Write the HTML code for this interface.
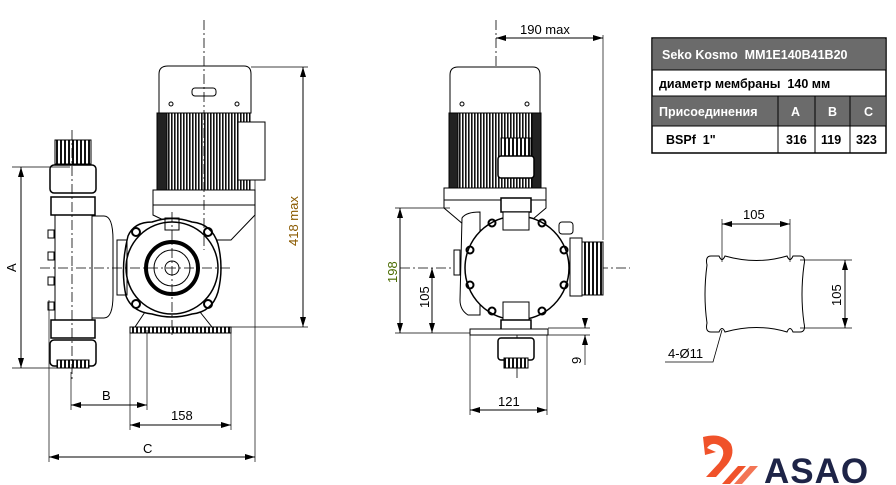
<!DOCTYPE html>
<html><head><meta charset="utf-8"><style>
html,body{margin:0;padding:0;background:#fff;width:896px;height:485px;overflow:hidden}
svg{display:block}
text{font-family:"Liberation Sans",Arial,sans-serif}
</style></head><body>
<svg width="896" height="485" viewBox="0 0 896 485" xmlns="http://www.w3.org/2000/svg">
<defs>
<marker id="a" viewBox="0 0 10 6" refX="10" refY="3" markerWidth="10" markerHeight="6" orient="auto-start-reverse" markerUnits="userSpaceOnUse"><path d="M0,0L10,3L0,6z" fill="#000"/></marker>
<pattern id="fins" width="3" height="10" patternUnits="userSpaceOnUse"><rect width="3" height="10" fill="#fff"/><rect width="1.6" height="10" fill="#111"/></pattern>
<pattern id="rib" width="4" height="10" patternUnits="userSpaceOnUse"><rect width="4" height="10" fill="#fff"/><rect width="2" height="10" fill="#111"/></pattern>
</defs>
<g fill="none" stroke="#000" stroke-width="1">
<!-- LEFT VIEW -->
<path d="M168,66 H244 Q251,66 251,74 V113 H159 V74 Q159,66 168,66Z" fill="#fff"/>
<rect x="192" y="88" width="24" height="8" rx="3"/>
<circle cx="171" cy="104" r="2"/><circle cx="237" cy="104" r="2"/>
<rect x="157" y="113" width="93" height="77" fill="url(#fins)"/>
<rect x="157" y="113" width="10" height="77" fill="#222"/>
<rect x="238" y="122" width="27" height="58" fill="#fff"/>
<path d="M153,190 H255 V215 L231,240 H205 L153,215Z" fill="#fff"/>
<line x1="153" y1="205" x2="255" y2="205"/>
<path d="M128,236 Q134,222 152,222 Q172,215 192,222 Q212,224 218,244 Q224,268 218,292 Q212,312 192,314 Q172,320 152,314 Q132,312 126,296 Q120,268 128,236Z" fill="#fff" stroke-width="1.5"/>
<circle cx="172" cy="268" r="46" stroke-width="1.5"/>
<circle cx="172" cy="268" r="26" stroke-width="4"/>
<circle cx="172" cy="268" r="18"/>
<circle cx="172" cy="268" r="7"/>
<circle cx="136" cy="232" r="4" stroke-width="2"/><circle cx="208" cy="232" r="4" stroke-width="2"/>
<circle cx="136" cy="304" r="4" stroke-width="2"/><circle cx="208" cy="304" r="4" stroke-width="2"/>
<rect x="165" y="218" width="14" height="12"/>
<path d="M145,312 L135,327 M200,312 L212,327"/>
<rect x="130" y="327" width="101" height="6" fill="url(#rib)"/>
<rect x="117" y="240" width="10" height="55"/>
<rect x="55" y="215" width="37" height="105" fill="#fff"/>
<path d="M92,216 H104 Q113,216 113,240 V295 Q113,318 104,318 H92Z" fill="#fff"/>
<rect x="51" y="197" width="44" height="18" fill="#fff" stroke-width="1.5"/>
<rect x="50" y="165" width="46" height="28" rx="4" fill="#fff" stroke-width="1.5"/>
<rect x="55" y="140" width="36" height="24" fill="url(#rib)"/>
<rect x="51" y="320" width="44" height="18" fill="#fff" stroke-width="1.5"/>
<rect x="50" y="340" width="46" height="26" rx="4" fill="#fff" stroke-width="1.5"/>
<rect x="57" y="360" width="32" height="8" fill="url(#rib)"/>
<rect x="48" y="230" width="6" height="8"/><rect x="48" y="252" width="6" height="8"/><rect x="48" y="277" width="6" height="8"/><rect x="48" y="302" width="6" height="8"/>
<g stroke-dasharray="10,3,2,3" stroke-width="0.8">
<line x1="40" y1="268" x2="232" y2="268"/><line x1="72" y1="130" x2="72" y2="380"/><line x1="204" y1="20" x2="204" y2="250"/><line x1="172" y1="212" x2="172" y2="335"/>
<line x1="400" y1="268" x2="630" y2="268"/><line x1="496" y1="20" x2="496" y2="200"/><line x1="517" y1="170" x2="517" y2="380"/>
</g>
<line x1="251" y1="67" x2="308" y2="67" stroke-width="0.7"/><line x1="231" y1="327" x2="308" y2="327" stroke-width="0.7"/>
<line x1="303" y1="67" x2="303" y2="327" marker-start="url(#a)" marker-end="url(#a)"/>
<line x1="12" y1="167" x2="70" y2="167" stroke-width="0.7"/><line x1="12" y1="368" x2="70" y2="368" stroke-width="0.7"/>
<line x1="21" y1="167" x2="21" y2="368" marker-start="url(#a)" marker-end="url(#a)"/>
<line x1="71" y1="372" x2="71" y2="410" stroke-width="0.7"/><line x1="147" y1="330" x2="147" y2="410" stroke-width="0.7"/>
<line x1="71" y1="405" x2="147" y2="405" marker-start="url(#a)" marker-end="url(#a)"/>
<line x1="130" y1="330" x2="130" y2="430" stroke-width="0.7"/><line x1="231" y1="330" x2="231" y2="430" stroke-width="0.7"/>
<line x1="130" y1="425" x2="231" y2="425" marker-start="url(#a)" marker-end="url(#a)"/>
<line x1="49" y1="300" x2="49" y2="462" stroke-width="0.7"/><line x1="255" y1="180" x2="255" y2="462" stroke-width="0.7"/>
<line x1="49" y1="457" x2="255" y2="457" marker-start="url(#a)" marker-end="url(#a)"/>
<!-- MIDDLE VIEW -->
<path d="M458,67 H533 Q540,67 540,75 V113 H450 V75 Q450,67 458,67Z" fill="#fff"/>
<circle cx="462" cy="104" r="2"/><circle cx="527" cy="104" r="2"/>
<rect x="449" y="113" width="92" height="75" fill="url(#fins)"/>
<rect x="449" y="113" width="9" height="75" fill="#222"/><rect x="532" y="113" width="9" height="75" fill="#222"/>
<path d="M444,188 H546 V208 L520,230 H470 L444,208Z" fill="#fff"/>
<line x1="444" y1="200" x2="546" y2="200"/>
<path d="M462,218 Q466,212 480,212 V315 H468 Q460,310 460,300Z" fill="#fff"/>
<circle cx="517" cy="268" r="52" fill="#fff" stroke-width="1.5"/>
<g stroke-width="2"><circle cx="492" cy="223" r="3.5"/><circle cx="542" cy="223" r="3.5"/><circle cx="470" cy="250" r="3.5"/><circle cx="564" cy="250" r="3.5"/><circle cx="470" cy="285" r="3.5"/><circle cx="564" cy="285" r="3.5"/><circle cx="492" cy="311" r="3.5"/><circle cx="542" cy="311" r="3.5"/></g>
<rect x="501" y="138" width="30" height="18" fill="url(#rib)"/>
<rect x="498" y="156" width="36" height="22" rx="3" fill="#fff" stroke-width="1.5"/>
<rect x="501" y="198" width="30" height="14" fill="#fff" stroke-width="1.5"/>
<rect x="503" y="212" width="26" height="18" fill="#fff"/>
<rect x="503" y="302" width="26" height="18" fill="#fff"/>
<rect x="501" y="320" width="30" height="14" fill="#fff" stroke-width="1.5"/>
<rect x="498" y="338" width="36" height="22" rx="3" fill="#fff" stroke-width="1.5"/>
<rect x="504" y="358" width="24" height="10" fill="url(#rib)"/>
<rect x="570" y="238" width="12" height="58" fill="#fff"/>
<rect x="582" y="242" width="21" height="53" fill="url(#rib)"/>
<rect x="559" y="222" width="14" height="12" rx="3" fill="#fff"/>
<rect x="454" y="250" width="6" height="25" fill="#fff"/>
<rect x="470" y="329" width="78" height="6" fill="#fff"/>
<line x1="603" y1="35" x2="603" y2="240" stroke-width="0.7"/>
<line x1="496" y1="38" x2="603" y2="38" marker-start="url(#a)" marker-end="url(#a)"/>
<line x1="395" y1="208" x2="450" y2="208" stroke-width="0.7"/><line x1="395" y1="333" x2="470" y2="333" stroke-width="0.7"/>
<line x1="400" y1="208" x2="400" y2="333" marker-start="url(#a)" marker-end="url(#a)"/>
<line x1="432" y1="268" x2="432" y2="333" marker-start="url(#a)" marker-end="url(#a)"/>
<line x1="548" y1="328" x2="590" y2="328" stroke-width="0.7"/><line x1="548" y1="335" x2="590" y2="335" stroke-width="0.7"/>
<line x1="585" y1="318" x2="585" y2="328" marker-end="url(#a)"/><line x1="585" y1="345" x2="585" y2="335" marker-end="url(#a)"/>
<line x1="585" y1="345" x2="585" y2="365" stroke-width="0.7"/>
<line x1="470" y1="335" x2="470" y2="415" stroke-width="0.7"/><line x1="547" y1="335" x2="547" y2="415" stroke-width="0.7"/>
<line x1="470" y1="410" x2="547" y2="410" marker-start="url(#a)" marker-end="url(#a)"/>
<!-- RIGHT plate -->
<path d="M711,256 H719 Q722,263 725,256 Q757,265 787,256 Q790,263 793,256 H800 Q806,256 804,265 Q800,295 804,323 Q806,332 800,332 H793 Q790,325 787,332 Q757,323 725,332 Q722,325 719,332 H711 Q705,332 707,323 Q703,295 707,265 Q705,256 711,256Z"/>
<line x1="722" y1="219" x2="722" y2="262" stroke-width="0.7"/><line x1="790" y1="219" x2="790" y2="262" stroke-width="0.7"/>
<line x1="722" y1="224" x2="790" y2="224" marker-start="url(#a)" marker-end="url(#a)"/>
<line x1="800" y1="260" x2="852" y2="260" stroke-width="0.7"/><line x1="800" y1="328" x2="852" y2="328" stroke-width="0.7"/>
<line x1="845" y1="260" x2="845" y2="328" marker-start="url(#a)" marker-end="url(#a)"/>
<polyline points="665,362 713,362 722,330" stroke-width="0.8"/>
</g>
<g font-size="13" fill="#000">
<text x="298" y="246" transform="rotate(-90 298 246)" fill="#8a5a00">418 max</text>
<text x="16" y="272" transform="rotate(-90 16 272)">A</text>
<text x="102" y="400">B</text>
<text x="171" y="420">158</text>
<text x="143" y="453">C</text>
<text x="520" y="34">190 max</text>
<text x="397" y="283" transform="rotate(-90 397 283)" fill="#4a6b00">198</text>
<text x="429" y="308" transform="rotate(-90 429 308)">105</text>
<text x="581" y="364" transform="rotate(-90 581 364)">9</text>
<text x="498" y="406">121</text>
<text x="743" y="219">105</text>
<text x="841" y="306" transform="rotate(-90 841 306)">105</text>
<text x="668" y="358">4-Ø11</text>
</g>
<g font-size="12.5" font-weight="bold" style="white-space:pre">
<rect x="652" y="38" width="234" height="115" fill="#fff" stroke="#000" stroke-width="1.5"/>
<rect x="653" y="39" width="232" height="31" fill="#6b6b6b"/>
<rect x="653" y="96" width="232" height="30" fill="#6b6b6b"/>
<g stroke="#000" stroke-width="1"><line x1="652" y1="70" x2="886" y2="70"/><line x1="652" y1="96" x2="886" y2="96"/><line x1="652" y1="126" x2="886" y2="126"/>
<line x1="778" y1="96" x2="778" y2="153"/><line x1="815" y1="96" x2="815" y2="153"/><line x1="850" y1="96" x2="850" y2="153"/></g>
<text x="662" y="59" fill="#fff" xml:space="preserve">Seko Kosmo  MM1E140B41B20</text>
<text x="659" y="88" fill="#000" xml:space="preserve">диаметр мембраны  140 мм</text>
<text x="659" y="116" fill="#fff">Присоединения</text>
<text x="791" y="116" fill="#fff">A</text><text x="828" y="116" fill="#fff">B</text><text x="864" y="116" fill="#fff">C</text>
<text x="666" y="144" xml:space="preserve">BSPf  1"</text>
<text x="786" y="144">316</text><text x="821" y="144">119</text><text x="856" y="144">323</text>
</g>
<g fill="#f0522a">
<path d="M703,437 Q722,432 731,444 Q736,456 724,468 L716,477 H706 L719,463 Q727,452 720,446 Q712,441 707,448 L716,452 L705,455 Z"/>
<path d="M722,484 L738,466 H746 L730,484Z"/><path d="M734,484 L750,466 H758 L742,484Z" opacity="0.8"/>
</g>
<text x="764" y="483" font-size="35" font-weight="bold" fill="#1e2447" letter-spacing="1">ASAO</text>
</svg>
</body></html>
